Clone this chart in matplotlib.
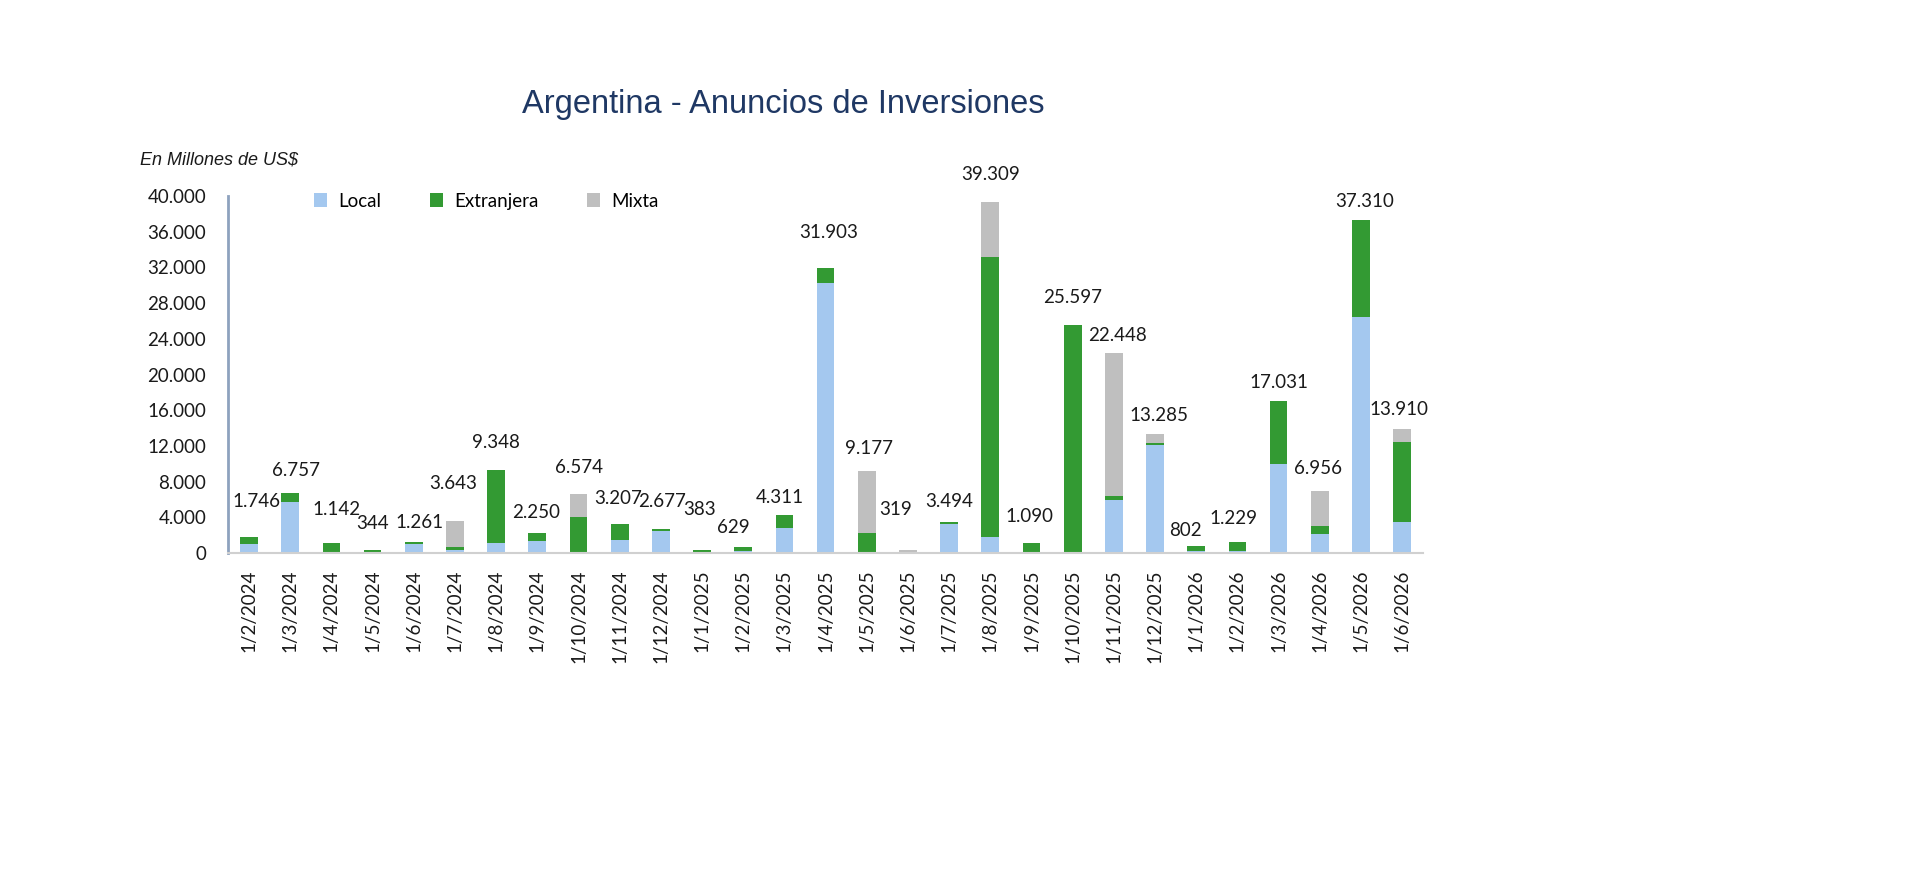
"""Argentina - Anuncios de Inversiones: stacked bars by origin of investment."""

import matplotlib
matplotlib.use("Agg")
import matplotlib.pyplot as plt
from matplotlib.ticker import FuncFormatter

fechas = ["1/2/2024", "1/3/2024", "1/4/2024", "1/5/2024", "1/6/2024", "1/7/2024",
          "1/8/2024", "1/9/2024", "1/10/2024", "1/11/2024", "1/12/2024", "1/1/2025",
          "1/2/2025", "1/3/2025", "1/4/2025", "1/5/2025", "1/6/2025", "1/7/2025",
          "1/8/2025", "1/9/2025", "1/10/2025", "1/11/2025", "1/12/2025", "1/1/2026",
          "1/2/2026", "1/3/2026", "1/4/2026", "1/5/2026", "1/6/2026"]
local = [1050, 5700, 0, 0, 1050, 300, 1100, 1350, 120, 1480, 2450, 0, 200, 2830,
         30293, 0, 0, 3230, 1750, 0, 0, 5900, 12085, 250, 180, 10000, 2120, 26450, 3450]
extranjera = [696, 1057, 1142, 344, 211, 380, 8248, 900, 3880, 1727, 227, 383, 429, 1481,
              1610, 2200, 0, 264, 31469, 1090, 25597, 460, 200, 552, 1049, 7031, 860, 10860, 9000]
mixta = [0, 0, 0, 0, 0, 2963, 0, 0, 2574, 0, 0, 0, 0, 0,
         0, 6977, 319, 0, 6090, 0, 0, 16088, 1000, 0, 0, 0, 3976, 0, 1460]
totales = [1746, 6757, 1142, 344, 1261, 3643, 9348, 2250, 6574, 3207, 2677, 383, 629, 4311,
           31903, 9177, 319, 3494, 39309, 1090, 25597, 22448, 13285, 802, 1229, 17031, 6956,
           37310, 13910]

# label placement as in the original (x shift in bar slots, y lift in US$ millions)
lbl_dx = [0.19, 0.13, 0.12, 0, 0.14, -0.04, 0, -0.03, 0, -0.03, 0.03, -0.05, -0.25, -0.1, 0.08,
          0.06, -0.3, 0, 0, -0.05, 0, 0.1, 0.09, -0.27, -0.1, 0, -0.05, 0.1, -0.08]
lbl_dy = [4000, 2540, 3690, 2960, 2190, 4100, 3050, 2250, 3030, 2850, 3070, 4450, 2200, 1890,
          4000, 2570, 4510, 2260, 3090, 2970, 3000, 1880, 2070, 1720, 2670, 2120, 2490, 2090, 2190]

C_LOCAL = "#A4C8EF"
C_EXT = "#339A33"
C_MIX = "#BFBFBF"


def miles(v, _pos=None):
    return f"{int(v):,}".replace(",", ".")


plt.rcParams["font.family"] = ["Lato", "DejaVu Sans"]

fig = plt.figure(figsize=(19.2, 8.83), dpi=100)
ax = fig.add_axes([0.119, 0.3737, 0.622, 0.4043])

x = list(range(len(fechas)))
w = 0.43
base2 = [a + b for a, b in zip(local, extranjera)]
ax.bar(x, local, w, color=C_LOCAL, label="Local")
ax.bar(x, extranjera, w, bottom=local, color=C_EXT, label="Extranjera")
ax.bar(x, mixta, w, bottom=base2, color=C_MIX, label="Mixta")

for i, t in enumerate(totales):
    ax.text(i + lbl_dx[i], t + lbl_dy[i], miles(t), ha="center", va="center",
            fontsize=13.5, color="#1a1a1a", clip_on=False)

ax.set_xlim(-0.5, len(fechas) - 0.5)
ax.set_ylim(0, 40000)
ax.set_yticks(range(0, 40001, 4000))
ax.yaxis.set_major_formatter(FuncFormatter(miles))
ax.set_xticks(x)
ax.set_xticklabels(fechas, rotation=90)
ax.tick_params(axis="y", length=0, pad=16, labelsize=13.5, labelcolor="#1a1a1a")
ax.tick_params(axis="x", length=0, pad=12, labelsize=13.5, labelcolor="#1a1a1a")

for s in ("top", "right"):
    ax.spines[s].set_visible(False)
ax.spines["left"].set_color("#8EA2BE")
ax.spines["left"].set_linewidth(2)
ax.spines["bottom"].set_color("#D0D0D0")
ax.spines["bottom"].set_linewidth(1.5)

ax.legend(loc="center left", bbox_to_anchor=(0.065, 0.986), ncol=3, frameon=False,
          fontsize=13.5, handlelength=0.7, handleheight=0.7, handletextpad=0.6,
          columnspacing=2.6, borderaxespad=0)

fig.text(0.408, 0.882, "Argentina - Anuncios de Inversiones", ha="center", va="center",
         fontsize=23.5, color="#1F3864", family=["Liberation Sans", "DejaVu Sans"])
fig.text(0.073, 0.819, "En Millones de US$", ha="left", va="center", fontsize=13,
         style="italic", color="#1a1a1a", family=["Liberation Sans", "DejaVu Sans"])

fig.savefig("out.png", dpi=100)
